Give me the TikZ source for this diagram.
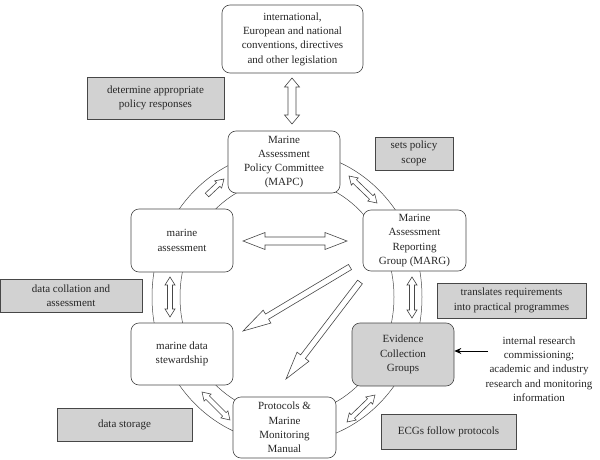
\documentclass[tikz,border=0pt]{standalone}
\usepackage{fontspec}
\setmainfont{Liberation Serif}
\usetikzlibrary{calc,arrows.meta}
\newcommand{\fs}{\fontsize{11}{14.3}\selectfont}
\tikzset{
  ln/.style={draw=black!72, line width=0.6pt},
  box/.style={ln, rounded corners=8pt, fill=white, align=center, inner sep=0pt, text=black!85, font=\fs},
  gbox/.style={ln, fill=gray!35, align=center, inner sep=0pt, text=black!85, font=\fs},
  grbox/.style={box, fill=gray!35},
  sz/.style 2 args={minimum width=#1pt, minimum height=#2pt},
  blk/.style={ln, fill=white, line join=miter},
  ring/.style={draw=black!72, line width=0.5pt},
  plain/.style={align=center, inner sep=0pt, text=black!85, font=\fs},
}
% double block arrow: start, end, half shaft, half head, head length
\newcommand{\dblarrow}[5]{%
  \draw[blk] let \p1=(#1), \p2=(#2), \n1={atan2(\y2-\y1,\x2-\x1)}, \n2={veclen(\x2-\x1,\y2-\y1)} in
  [shift={(\p1)}, rotate=\n1]
  (0,0) -- (#5,#4) -- (#5,#3) -- ({\n2-#5},#3) -- ({\n2-#5},#4) -- (\n2,0)
  -- ({\n2-#5},-#4) -- ({\n2-#5},-#3) -- (#5,-#3) -- (#5,-#4) -- cycle;}
% single block arrow
\newcommand{\sglarrow}[5]{%
  \draw[blk] let \p1=(#1), \p2=(#2), \n1={atan2(\y2-\y1,\x2-\x1)}, \n2={veclen(\x2-\x1,\y2-\y1)} in
  [shift={(\p1)}, rotate=\n1]
  (0,#3) -- ({\n2-#5},#3) -- ({\n2-#5},#4) -- (\n2,0)
  -- ({\n2-#5},-#4) -- ({\n2-#5},-#3) -- (0,-#3) -- cycle;}
\begin{document}
\begin{tikzpicture}[x=1pt,y=-1pt]
\useasboundingbox (0,0) rectangle (600,460);
% ring
\draw[ring] (287,297) ellipse [x radius=135pt, y radius=146pt];
\draw[ring] (287,297) ellipse [x radius=107pt, y radius=118pt];
% boxes
\node[box, sz={141}{68}] (law) at (292.5,39) {international,\\European and national\\conventions, directives\\and other legislation};
\node[gbox, sz={137}{42}] (det) at (155.5,98) {determine appropriate\\policy responses};
\node[box, sz={112}{62}] (mapc) at (284,162) {Marine\\Assessment\\Policy Committee\\(MAPC)};
\node[gbox, sz={78}{33}] (scope) at (414,153.5) {sets policy\\scope};
\node[box, sz={103}{61}] (marg) at (414.5,240.5) {Marine\\Assessment\\Reporting\\Group (MARG)};
\node[box, sz={102}{63}] (ma) at (182,240.5) {marine\\assessment};
\node[gbox, sz={142}{33}] (coll) at (71,295.5) {data collation and\\assessment};
\node[gbox, sz={149}{35}] (trans) at (511.5,300.5) {translates requirements\\into practical programmes};
\node[grbox, sz={102}{63}] (ecg) at (403,354.5) {Evidence\\Collection\\Groups};
\node[box, sz={102}{62}] (mds) at (182,354) {marine data\\stewardship};
\node[gbox, sz={135}{33}] (store) at (124.5,424.5) {data storage};
\node[box, sz={103}{61}] (prot) at (284.5,427.5) {Protocols \&\\Marine\\Monitoring\\Manual};
\node[gbox, sz={135}{35}] (follow) at (448.5,431.5) {ECGs follow protocols};
\node[plain] (ext) at (539,369) {internal research\\commissioning;\\academic and industry\\research and monitoring\\information};
% arrow end points
\coordinate (a1s) at (292,78);  \coordinate (a1e) at (292,124);
\coordinate (a2s) at (207,195); \coordinate (a2e) at (224,179);
\coordinate (a3s) at (349,176); \coordinate (a3e) at (377,203);
\coordinate (a4s) at (412,277); \coordinate (a4e) at (412,318);
\coordinate (a5s) at (170,277); \coordinate (a5e) at (170,317);
\coordinate (a6s) at (202,392); \coordinate (a6e) at (230,420);
\coordinate (a7s) at (347,422); \coordinate (a7e) at (375,395);
\coordinate (a8s) at (243,241); \coordinate (a8e) at (347,241);
\coordinate (a9s) at (350,267); \coordinate (a9e) at (243,331);
\coordinate (a10s) at (360,282); \coordinate (a10e) at (286,379);
\coordinate (src) at (488,351);
% block arrows
\dblarrow{a1s}{a1e}{4}{7.5}{9}
\sglarrow{a2s}{a2e}{2.5}{5}{8}
\dblarrow{a3s}{a3e}{2.5}{5}{8}
\dblarrow{a4s}{a4e}{2.5}{5}{8}
\dblarrow{a5s}{a5e}{2.5}{5}{8}
\dblarrow{a6s}{a6e}{2.5}{5}{8}
\dblarrow{a7s}{a7e}{2.5}{5}{8}
\dblarrow{a8s}{a8e}{4}{8.5}{22}
\sglarrow{a9s}{a9e}{3}{7.5}{28}
\sglarrow{a10s}{a10e}{3}{7.5}{28}
% input arrow
\draw[line width=1pt, -{Stealth[length=7pt,width=6pt]}] (src) -- (ecg.east |- src);
\end{tikzpicture}
\end{document}
